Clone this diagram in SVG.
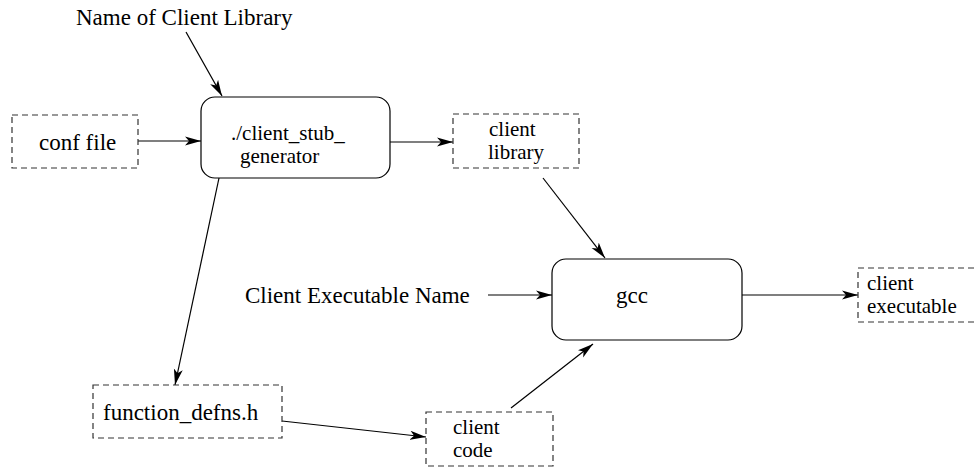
<svg xmlns="http://www.w3.org/2000/svg" width="977" height="468" viewBox="0 0 977 468">
  <style>
    text { font-family: "Liberation Serif", "Times New Roman", serif; font-size: 23px; fill: #000; }
    .two { font-size: 21px; }
    .proc { fill: #fff; stroke: #000; stroke-width: 1.2; }
    .file { fill: none; stroke: #333; stroke-width: 1.2; stroke-dasharray: 6 4; }
    .edge { fill: none; stroke: #000; stroke-width: 1.2; marker-end: url(#arrow); }
  </style>
  <defs>
    <marker id="arrow" markerUnits="userSpaceOnUse" markerWidth="18" markerHeight="10" refX="16" refY="5" orient="auto">
      <path d="M0,0.5 L16,5 L0,9.5 L4,5 Z" fill="#000"/>
    </marker>
  </defs>
  <rect width="977" height="468" fill="#fff"/>

  <g id="connectors">
    <line class="edge" x1="186" y1="32" x2="222" y2="96"/>
    <line class="edge" x1="138" y1="141" x2="201" y2="141"/>
    <line class="edge" x1="390" y1="142" x2="453" y2="142"/>
    <line class="edge" x1="543" y1="178" x2="605" y2="258"/>
    <line class="edge" x1="219" y1="178" x2="175" y2="385"/>
    <line class="edge" x1="282" y1="421" x2="426" y2="437"/>
    <line class="edge" x1="511" y1="408" x2="593" y2="344"/>
    <line class="edge" x1="488" y1="295" x2="552" y2="295"/>
    <line class="edge" x1="742" y1="295" x2="858" y2="295"/>
  </g>

  <g id="label-client-library-name">
    <text x="76" y="25">Name of Client Library</text>
  </g>

  <g id="label-executable-name">
    <text x="245" y="303">Client Executable Name</text>
  </g>

  <g id="conf-file">
    <rect class="file" x="12" y="115" width="126" height="53"/>
    <text x="39" y="150">conf file</text>
  </g>

  <g id="stub-generator">
    <rect class="proc" x="201" y="97" width="189" height="81" rx="14" ry="14"/>
    <text class="two" x="231" y="140">./client_stub_</text>
    <text class="two" x="240" y="163">generator</text>
  </g>

  <g id="client-library">
    <rect class="file" x="453" y="114" width="126" height="54"/>
    <text class="two" x="489" y="136">client</text>
    <text class="two" x="488" y="159">library</text>
  </g>

  <g id="gcc">
    <rect class="proc" x="552" y="259" width="190" height="81" rx="14" ry="14"/>
    <text x="616" y="303">gcc</text>
  </g>

  <g id="client-executable">
    <rect class="file" x="858" y="268" width="126" height="54"/>
    <text class="two" x="867" y="290">client</text>
    <text class="two" x="867" y="313">executable</text>
  </g>

  <g id="function-defns">
    <rect class="file" x="93" y="385" width="189" height="53"/>
    <text x="103" y="420">function_defns.h</text>
  </g>

  <g id="client-code">
    <rect class="file" x="426" y="412" width="127" height="54"/>
    <text class="two" x="453" y="434">client</text>
    <text class="two" x="453" y="457">code</text>
  </g>
</svg>
